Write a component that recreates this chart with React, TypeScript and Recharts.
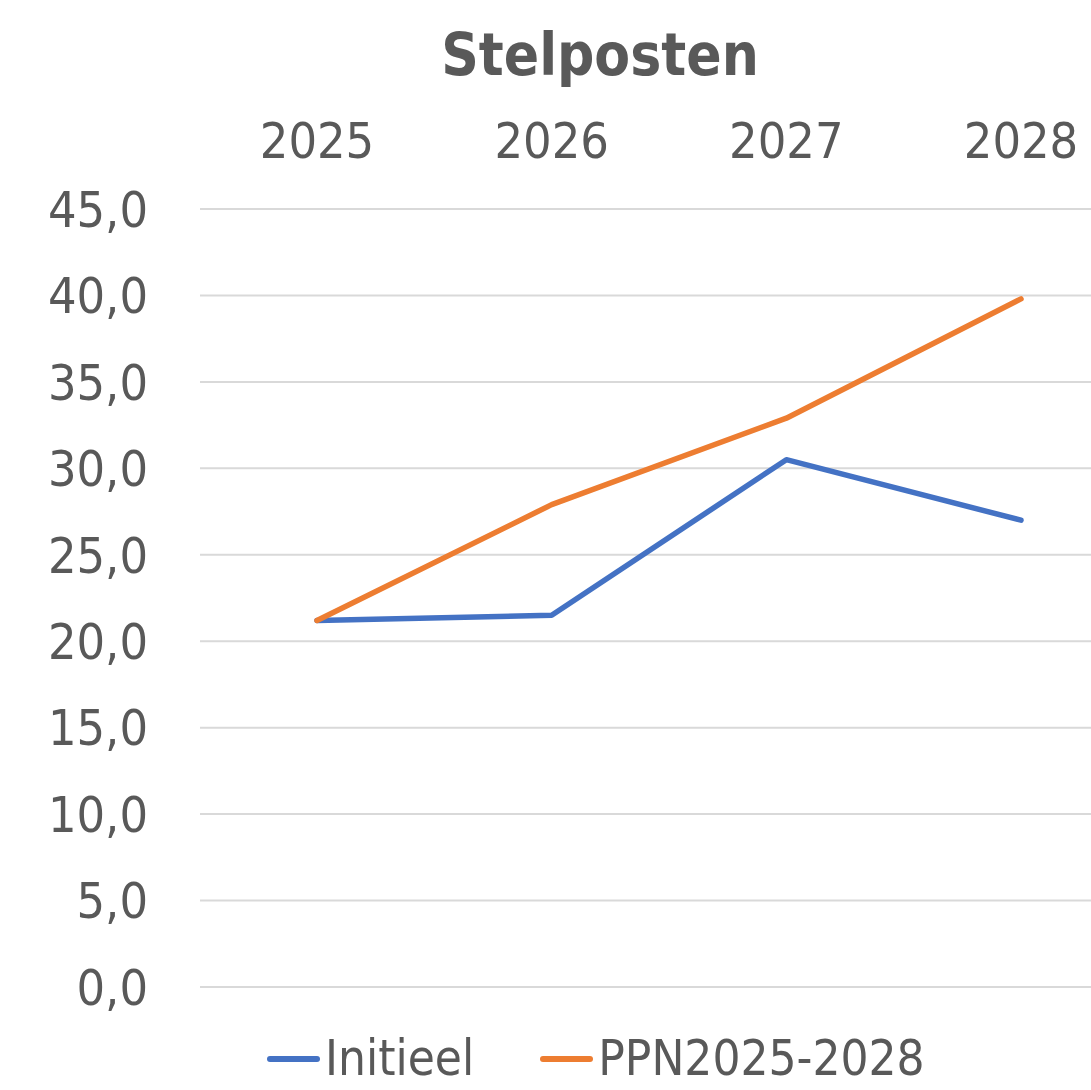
import { CartesianGrid, Legend, Line, LineChart, XAxis, YAxis } from 'recharts'

const years = ['2025', '2026', '2027', '2028']
const initieel = [21.2, 21.5, 30.5, 27.0]
const ppn = [21.2, 27.9, 32.9, 39.8]
const yTicks = [0, 5, 10, 15, 20, 25, 30, 35, 40, 45]

const data = years.map((year, i) => ({ year, initieel: initieel[i], ppn: ppn[i] }))

const FONT = "'Liberation Sans Narrow', 'DejaVu Sans Condensed', 'Open Sans', sans-serif"
const TEXT = '#595959'

const series = [
  { key: 'initieel', name: 'Initieel', color: '#4472C4' },
  { key: 'ppn', name: 'PPN2025-2028', color: '#ED7D31' },
]

function LegendBox() {
  return (
    <div style={{ height: 103, display: 'flex', alignItems: 'flex-start', paddingLeft: 267, paddingTop: 44, boxSizing: 'border-box', fontFamily: FONT, fontSize: 49, color: TEXT }}>
      {series.map((s, i) => (
        <div key={s.key} style={{ display: 'flex', alignItems: 'center', marginRight: i === 0 ? 66 : 0, lineHeight: '56px' }}>
          <span style={{ display: 'inline-block', width: 53, height: 6, borderRadius: 3, background: s.color, marginRight: 5 }} />
          <span>{s.name}</span>
        </div>
      ))}
    </div>
  )
}

export default function App() {
  return (
    <div style={{ position: 'absolute', left: 0, top: 0, width: 1091, height: 1090, overflow: 'hidden', background: '#fff' }}>
      <div style={{ position: 'absolute', left: 0, top: 15, width: 1200, textAlign: 'center', fontFamily: FONT, fontWeight: 'bold', fontSize: 58, color: TEXT, lineHeight: '80px' }}>
        Stelposten
      </div>
      <LineChart width={1140} height={1090} data={data} margin={{ top: 0, right: 2, bottom: 0, left: 0 }}>
        <CartesianGrid vertical={false} stroke="#D9D9D9" strokeWidth={2} />
        <XAxis
          dataKey="year"
          orientation="top"
          height={209}
          padding={{ left: 117, right: 117 }}
          axisLine={false}
          tickLine={false}
          tickSize={0}
          tickMargin={51}
          tick={{ fill: TEXT, fontSize: 50, fontFamily: FONT }}
        />
        <YAxis
          width={200}
          domain={[0, 45]}
          ticks={yTicks}
          axisLine={false}
          tickLine={false}
          tickSize={0}
          tickMargin={52}
          tick={{ fill: TEXT, fontSize: 50, fontFamily: FONT }}
          tickFormatter={(v: number) => v.toFixed(1).replace('.', ',')}
        />
        <Legend verticalAlign="bottom" content={() => <LegendBox />} />
        {series.map((s) => (
          <Line
            key={s.key}
            dataKey={s.key}
            name={s.name}
            stroke={s.color}
            strokeWidth={5.5}
            strokeLinecap="round"
            strokeLinejoin="round"
            dot={false}
            activeDot={false}
            isAnimationActive={false}
          />
        ))}
      </LineChart>
    </div>
  )
}
